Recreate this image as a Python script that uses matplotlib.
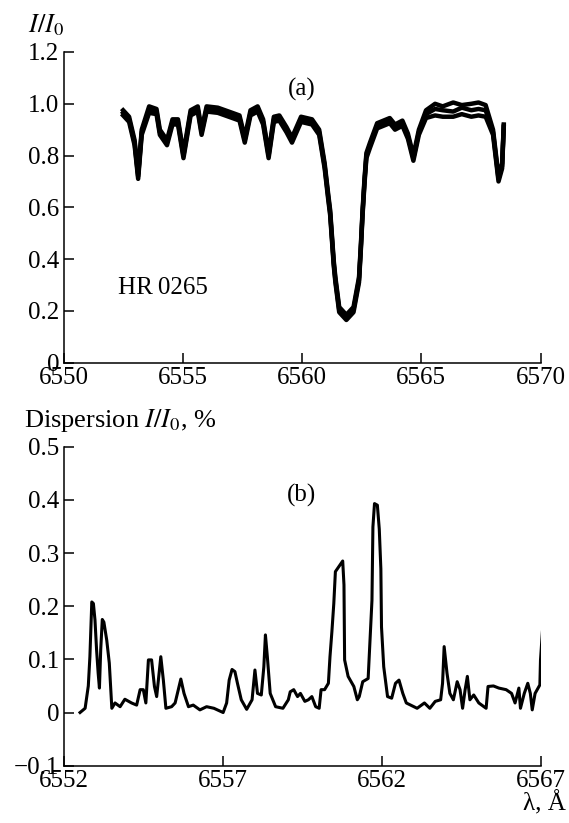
import matplotlib
matplotlib.use("Agg")
import matplotlib.pyplot as plt
from matplotlib.ticker import FuncFormatter

plt.rcParams['font.family'] = ['Liberation Serif', 'DejaVu Serif']
plt.rcParams['mathtext.fontset'] = 'stix'

# (a) normalized H-alpha profile, HR 0265: three overlapping observations
wl_a = [6552.50, 6552.75, 6552.98, 6553.13, 6553.28, 6553.59, 6553.90, 6554.04,
        6554.34, 6554.57, 6554.80, 6555.03, 6555.33, 6555.63, 6555.79, 6556.00,
        6556.47, 6557.08, 6557.38, 6557.60, 6557.84, 6558.14, 6558.37, 6558.60,
        6558.82, 6559.05, 6559.35, 6559.58, 6559.96, 6560.42, 6560.72, 6560.95,
        6561.10, 6561.18, 6561.33, 6561.40, 6561.56, 6561.86, 6562.16, 6562.39,
        6562.47, 6562.54, 6562.62, 6562.70, 6562.85, 6563.15, 6563.68, 6563.90,
        6564.21, 6564.44, 6564.67, 6564.90, 6565.20, 6565.58, 6565.90, 6566.34,
        6566.70, 6567.10, 6567.40, 6567.70, 6568.01, 6568.24, 6568.39, 6568.46]
flux_a1 = [0.975, 0.95, 0.86, 0.73, 0.90, 0.99, 0.98, 0.90, 0.86, 0.94, 0.94, 0.81,
           0.975, 0.99, 0.90, 0.99, 0.985, 0.965, 0.955, 0.87, 0.975, 0.99, 0.94, 0.81,
           0.95, 0.955, 0.91, 0.87, 0.95, 0.94, 0.90, 0.77, 0.65, 0.59, 0.395, 0.33,
           0.215, 0.185, 0.215, 0.33, 0.46, 0.59, 0.71, 0.81, 0.85, 0.925, 0.945, 0.92,
           0.935, 0.885, 0.80, 0.90, 0.975, 1.00, 0.99, 1.005, 0.995, 1.00, 1.005, 0.995,
           0.90, 0.72, 0.77, 0.92]
flux_a2 = [0.965, 0.94, 0.85, 0.72, 0.89, 0.975, 0.97, 0.89, 0.85, 0.93, 0.93, 0.80,
           0.965, 0.98, 0.89, 0.98, 0.975, 0.955, 0.945, 0.86, 0.965, 0.98, 0.93, 0.80,
           0.94, 0.945, 0.90, 0.86, 0.94, 0.93, 0.89, 0.76, 0.64, 0.58, 0.385, 0.32,
           0.205, 0.175, 0.205, 0.32, 0.45, 0.58, 0.70, 0.80, 0.84, 0.915, 0.935, 0.91,
           0.925, 0.875, 0.79, 0.89, 0.96, 0.98, 0.975, 0.97, 0.985, 0.975, 0.98, 0.975,
           0.89, 0.71, 0.76, 0.915]
flux_a3 = [0.955, 0.93, 0.84, 0.71, 0.88, 0.965, 0.96, 0.88, 0.84, 0.92, 0.92, 0.79,
           0.955, 0.97, 0.88, 0.97, 0.965, 0.945, 0.935, 0.85, 0.955, 0.97, 0.92, 0.79,
           0.93, 0.935, 0.89, 0.85, 0.93, 0.92, 0.88, 0.75, 0.63, 0.57, 0.375, 0.31,
           0.195, 0.165, 0.195, 0.31, 0.44, 0.57, 0.69, 0.79, 0.83, 0.905, 0.925, 0.90,
           0.915, 0.865, 0.78, 0.88, 0.945, 0.955, 0.95, 0.95, 0.96, 0.95, 0.955, 0.95,
           0.88, 0.70, 0.75, 0.91]

# (b) dispersion of I/I0, %
wl_b = [6552.52, 6552.68, 6552.78, 6552.83, 6552.89, 6552.94, 6552.99, 6553.04,
        6553.09, 6553.13, 6553.17, 6553.22, 6553.27, 6553.36, 6553.44, 6553.52,
        6553.62, 6553.78, 6553.93, 6554.14, 6554.30, 6554.41, 6554.51, 6554.59,
        6554.67, 6554.77, 6554.86, 6554.93, 6555.06, 6555.14, 6555.22, 6555.40,
        6555.51, 6555.61, 6555.69, 6555.79, 6555.93, 6556.08, 6556.29, 6556.50,
        6556.73, 6557.02, 6557.13, 6557.21, 6557.30, 6557.39, 6557.47, 6557.59,
        6557.76, 6557.93, 6558.02, 6558.10, 6558.22, 6558.30, 6558.35, 6558.41,
        6558.50, 6558.67, 6558.90, 6559.07, 6559.13, 6559.24, 6559.36, 6559.45,
        6559.59, 6559.70, 6559.81, 6559.93, 6560.04, 6560.10, 6560.21, 6560.33,
        6560.38, 6560.44, 6560.50, 6560.55, 6560.78, 6560.82, 6560.84, 6560.95,
        6561.13, 6561.24, 6561.30, 6561.41, 6561.58, 6561.64, 6561.70, 6561.73,
        6561.78, 6561.87, 6561.93, 6561.98, 6562.00, 6562.07, 6562.19, 6562.32,
        6562.44, 6562.55, 6562.67, 6562.78, 6563.12, 6563.35, 6563.52, 6563.69,
        6563.86, 6563.92, 6563.97, 6564.06, 6564.15, 6564.26, 6564.38, 6564.47,
        6564.55, 6564.63, 6564.70, 6564.78, 6564.90, 6565.06, 6565.29, 6565.35,
        6565.52, 6565.69, 6565.92, 6566.09, 6566.20, 6566.32, 6566.37, 6566.49,
        6566.60, 6566.68, 6566.74, 6566.83, 6566.98, 6567.00, 6567.06]
disp_b = [0.0, 0.008, 0.05, 0.105, 0.208, 0.205, 0.174, 0.118,
          0.074, 0.046, 0.118, 0.175, 0.17, 0.136, 0.093, 0.008,
          0.018, 0.011, 0.025, 0.018, 0.014, 0.043, 0.043, 0.018,
          0.099, 0.099, 0.049, 0.03, 0.105, 0.061, 0.008, 0.011,
          0.018, 0.043, 0.063, 0.036, 0.011, 0.014, 0.005, 0.011,
          0.008, 0.0, 0.018, 0.061, 0.081, 0.077, 0.055, 0.024,
          0.006, 0.024, 0.08, 0.036, 0.033, 0.086, 0.146, 0.105,
          0.036, 0.011, 0.008, 0.024, 0.039, 0.043, 0.03, 0.036,
          0.021, 0.024, 0.03, 0.011, 0.008, 0.043, 0.043, 0.055,
          0.105, 0.152, 0.205, 0.265, 0.285, 0.24, 0.099, 0.068,
          0.049, 0.024, 0.03, 0.058, 0.064, 0.136, 0.211, 0.349,
          0.393, 0.39, 0.345, 0.27, 0.161, 0.086, 0.03, 0.027,
          0.055, 0.061, 0.036, 0.018, 0.008, 0.018, 0.008, 0.021,
          0.024, 0.055, 0.124, 0.074, 0.036, 0.024, 0.058, 0.043,
          0.008, 0.043, 0.068, 0.024, 0.033, 0.018, 0.008, 0.049,
          0.05, 0.046, 0.043, 0.036, 0.018, 0.046, 0.008, 0.036,
          0.055, 0.036, 0.005, 0.036, 0.052, 0.099, 0.152]

xticks_a = [6550, 6555, 6560, 6565, 6570]
yticks_a = [0, 0.2, 0.4, 0.6, 0.8, 1.0, 1.2]
xticks_b = [6552, 6557, 6562, 6567]
yticks_b = [-0.1, 0, 0.1, 0.2, 0.3, 0.4, 0.5]


def fmt(v, pos):
    if abs(v) < 1e-9:
        return '0'
    return f'{v:.1f}'.replace('-', '\u2212')


def style(ax):
    for s in ('top', 'right'):
        ax.spines[s].set_visible(False)
    for s in ('left', 'bottom'):
        ax.spines[s].set_linewidth(1.1)
    ax.tick_params(direction='in', length=7, width=1.1, labelsize=18, pad=3)
    ax.yaxis.set_major_formatter(FuncFormatter(fmt))


fig = plt.figure(figsize=(5.69, 8.23), dpi=100)
W, H = 569.0, 823.0

# panel (a)
ax1 = fig.add_axes([63.5 / W, 1 - 362.7 / H, 477 / W, 310.7 / H])
for f in (flux_a1, flux_a2, flux_a3):
    ax1.plot(wl_a, f, color='black', lw=3.2, solid_joinstyle='round')
ax1.set_xlim(6550, 6570)
ax1.set_ylim(0, 1.2)
ax1.set_xticks(xticks_a)
ax1.set_yticks(yticks_a)
style(ax1)
ax1.text(6560, 1.055, '(a)', fontsize=18, ha='center', va='center')
ax1.text(6552.28, 0.29, 'HR\u20090265', fontsize=18, ha='left', va='center')

# panel (b)
ax2 = fig.add_axes([63.5 / W, 1 - 765.7 / H, 477 / W, 319 / H])
ax2.plot(wl_b, disp_b, color='black', lw=2.2, solid_joinstyle='round')
ax2.set_xlim(6552, 6567)
ax2.set_ylim(-0.1, 0.5)
ax2.set_xticks(xticks_b)
ax2.set_yticks(yticks_b)
style(ax2)
ax2.text(6559.47, 0.408, '(b)', fontsize=18, ha='center', va='center')

# axis captions
fig.text(63.5 / W, 1 - 25 / H, r'$I/I_0$', fontsize=19, ha='right', va='center')
fig.text(24 / W, 1 - 420 / H, r'Dispersion $I/I_0$, %', fontsize=19,
         ha='left', va='center')
fig.text(566 / W, 1 - 803 / H, '\u03bb, \u00c5', fontsize=18, ha='right', va='center')

fig.savefig('out.png', dpi=100)
